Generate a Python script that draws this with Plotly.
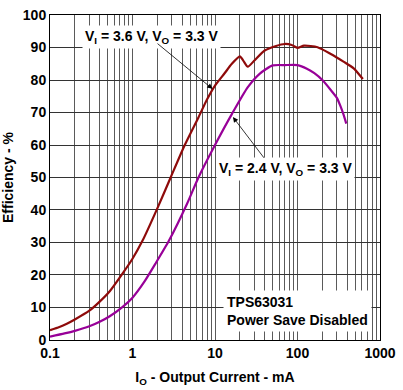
import numpy as np
import plotly.graph_objects as go

# Data
i_36 = [0.1, 0.13, 0.16, 0.2, 0.3, 0.4, 0.53, 0.76, 1.0, 1.32, 2.0, 2.9, 4.3, 6.3, 8.0,
        10, 13, 16, 20, 22, 25, 30, 40, 55, 70, 85, 100, 120, 175, 250, 365, 480, 620]
eff_36 = [3.0, 4.0, 5.0, 6.3, 9.0, 11.8, 15.0, 20.5, 25.0, 30.5, 40.5, 50.0, 60.0, 68.5, 74.0,
          78.3, 82.0, 85.0, 87.3, 86.0, 84.1, 86.0, 89.1, 90.5, 91.1, 90.8, 89.9, 90.6, 90.1,
          88.1, 85.6, 83.6, 80.3]

i_24 = [0.1, 0.15, 0.2, 0.3, 0.4, 0.53, 0.76, 1.0, 1.4, 1.9, 2.76, 4.6, 6.3, 10, 16, 25, 35,
        50, 70, 100, 130, 160, 200, 250, 300, 330, 360, 390]
eff_24 = [1.0, 2.0, 2.8, 4.2, 5.6, 7.3, 10.2, 13.0, 18.0, 23.5, 30.5, 42.0, 50.0, 60.0, 69.5,
          77.8, 82.0, 84.5, 84.6, 84.6, 83.5, 82.1, 80.0, 77.1, 74.5, 72.1, 69.5, 66.6]

decade_ticks = [0.1, 1, 10, 100, 1000]
decade_labels = ["0.1", "1", "10", "100", "1000"]
y_ticks = list(range(0, 101, 10))

# every 1..9 step of each decade gets a grid line; only decades get a label
grid_vals = [m * 10.0 ** d for d in range(-1, 3) for m in range(1, 10)] + [1000]
grid_text = [decade_labels[decade_ticks.index(v)] if v in decade_ticks else ""
             for v in [round(g, 6) for g in grid_vals]]

FONT = "Liberation Sans, Arial, sans-serif"
RED = "#8E0A0A"
PURPLE = "#980098"

fig = go.Figure()
fig.add_trace(go.Scatter(x=i_36, y=eff_36, mode="lines",
                         line=dict(color=RED, width=2.2, shape="spline", smoothing=0.6),
                         showlegend=False, hoverinfo="skip"))
fig.add_trace(go.Scatter(x=i_24, y=eff_24, mode="lines",
                         line=dict(color=PURPLE, width=2.2, shape="spline", smoothing=0.6),
                         showlegend=False, hoverinfo="skip"))

tfont = dict(family=FONT, size=14, color="black", weight="bold")

# labels
fig.add_annotation(x=0.231, y=93.1, xref="x", yref="y", showarrow=False,
                   text="V<sub>I</sub> = 3.6 V, V<sub>O</sub> = 3.3 V",
                   font=tfont, bgcolor="white", borderpad=2)
fig.add_annotation(x=1.853, y=52.6, xref="x", yref="y", showarrow=False,
                   text="V<sub>I</sub> = 2.4 V, V<sub>O</sub> = 3.3 V",
                   font=tfont, bgcolor="white", borderpad=2)
fig.add_annotation(x=1.10, y=9.0, xref="x", yref="y", showarrow=False,
                   xanchor="left", align="left",
                   text="TPS63031<br>Power Save Disabled",
                   font=tfont, bgcolor="white", borderpad=3)

# arrows
fig.add_annotation(x=np.log10(9.3), y=77.3, ax=0.285, ay=91.6, axref="x", ayref="y",
                   xref="x", yref="y", text="", showarrow=True, arrowhead=2,
                   arrowsize=1.3, arrowwidth=0.8, arrowcolor="black")
fig.add_annotation(x=np.log10(16.5), y=68.6, ax=1.607, ay=55.6, axref="x", ayref="y",
                   xref="x", yref="y", text="", showarrow=True, arrowhead=2,
                   arrowsize=1.3, arrowwidth=0.8, arrowcolor="black")

fig.update_layout(
    width=403, height=390,
    margin=dict(l=50, r=20, t=7, b=50),
    plot_bgcolor="white", paper_bgcolor="white",
    font=dict(family=FONT, color="black"),
    xaxis=dict(type="log", range=[-1, 3], tickmode="array",
               tickvals=grid_vals, ticktext=grid_text,
               showgrid=True, gridcolor="#5a5a5a", gridwidth=1,
               showline=True, linecolor="black", linewidth=1, mirror=True,
               ticks="", tickfont=tfont, zeroline=False,
               title=dict(text="I<sub>O</sub> - Output Current - mA", font=tfont, standoff=12)),
    yaxis=dict(range=[-0.02, 100.02], tickvals=y_ticks, showgrid=True, gridcolor="#333333",
               gridwidth=1, showline=True, linecolor="black", linewidth=1, mirror=True,
               ticks="", tickfont=tfont, zeroline=False, ticklabeloverflow="allow",
               title=dict(text="Efficiency - %", font=tfont, standoff=6)),
)

fig.write_html("out.html", config={"displayModeBar": False},
               post_script="document.body.style.margin='0';document.body.style.overflow='hidden';")
